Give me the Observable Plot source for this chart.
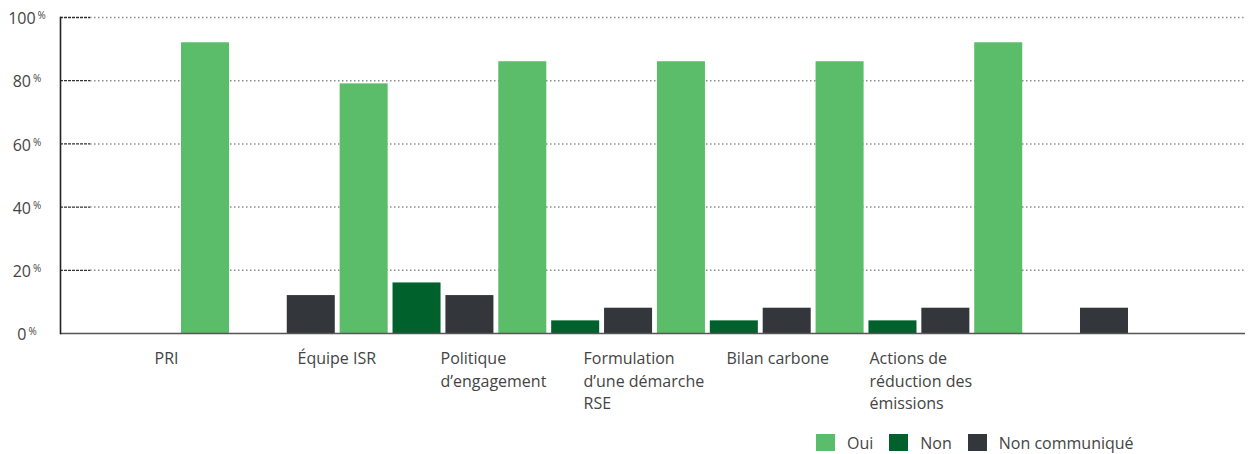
<!DOCTYPE html>
<html>
<head>
<meta charset="utf-8">
<script src="https://cdn.jsdelivr.net/npm/d3@7"></script>
<script src="https://cdn.jsdelivr.net/npm/@observablehq/plot@0.6"></script>
<style>
  body { margin: 0; background: #fff; font-family: "Open Sans", sans-serif; }
  #legend { display: flex; align-items: center; height: 25px; margin-top: 5px; padding-left: 816px; font-size: 16px; color: #444; }
  #legend .item { display: flex; align-items: center; margin-right: 16px; }
  #legend .sw { width: 19px; height: 17px; margin-right: 12px; }
</style>
</head>
<body>
<div id="chart"></div>
<script>
// Categories (line breaks are kept in the labels)
const categories = [
  "PRI",
  "Équipe ISR",
  "Politique\nd’engagement",
  "Formulation\nd’une démarche\nRSE",
  "Bilan carbone",
  "Actions de\nréduction des\némissions"
];
const series = ["Oui", "Non", "Non communiqué"];
const oui = [92, 79, 86, 86, 86, 92];
const non = [0, 16, 4, 4, 4, 0];
const nonCommunique = [12, 12, 8, 8, 8, 8];
const yTicks = [0, 20, 40, 60, 80, 100];
const colors = ["#5bbd6a", "#00612c", "#33363a"];

// One row per bar, keyed by category and series
const values = [oui, non, nonCommunique];
const rows = categories.flatMap((c, i) =>
  series.map((s, j) => ({category: c, series: s, slot: c + "|" + s, value: values[j][i]}))
);

const chart = document.getElementById("chart");

const bars = Plot.plot({
  width: 1248,
  height: 345,
  marginTop: 17,
  marginBottom: 12,
  marginLeft: 60,
  marginRight: 3,
  style: {fontFamily: "Open Sans", fontSize: "16px", color: "#444", background: "#fff"},
  x: {type: "band", domain: rows.map(d => d.slot), range: [181, 1128], paddingInner: 0.092, paddingOuter: 0, round: false, axis: null},
  y: {domain: [0, 100], label: null},
  color: {domain: series, range: colors},
  marks: [
    // dotted grid
    Plot.ruleY(yTicks.slice(1), {stroke: "#8a8a8a", strokeWidth: 1.5, strokeDasharray: "1.5,2.5", insetLeft: 30}),
    // short dark ticks next to the axis
    Plot.ruleY(yTicks.slice(1), {stroke: "#333", strokeWidth: 1.3, strokeDasharray: "3,1", insetRight: 1155}),
    Plot.barY(rows, {x: "slot", y: "value", fill: "series"}),
    Plot.ruleY([0], {stroke: "#555", strokeWidth: 1.6}),
    Plot.frame({anchor: "left", stroke: "#222", strokeWidth: 1.6}),
    Plot.axisY({ticks: yTicks, tickSize: 0, tickPadding: 33.5, textAnchor: "middle", dy: 1.5, fill: "#444", fontSize: 16, label: null})
  ]
});

// tick labels at full size, with a superscript percent sign
const tickText = d3.select(bars).selectAll('g[aria-label="y-axis tick label"] text');
tickText.attr("font-size", 16);
tickText.append("tspan")
  .attr("font-size", 10)
  .attr("dx", 2)
  .attr("dy", -5)
  .text("%");

chart.appendChild(bars);

const labels = Plot.plot({
  width: 1248,
  height: 80,
  marginTop: 3,
  marginBottom: 0,
  marginLeft: 0,
  marginRight: 0,
  style: {fontFamily: "Open Sans", fontSize: "16px", background: "#fff"},
  x: {type: "point", domain: categories, range: [154, 869], padding: 0, axis: null},
  marks: [
    Plot.text(categories, {
      x: d => d, text: d => d,
      frameAnchor: "top", lineAnchor: "top", textAnchor: "start",
      lineHeight: 1.4, fill: "#444", fontSize: 16
    })
  ]
});
chart.appendChild(labels);

// legend
const legend = d3.select("body").append("div").attr("id", "legend");
const item = legend.selectAll(".item").data(series).join("div").attr("class", "item");
item.append("div").attr("class", "sw").style("background", (d, i) => colors[i]);
item.append("span").text(d => d);
</script>
</body>
</html>
